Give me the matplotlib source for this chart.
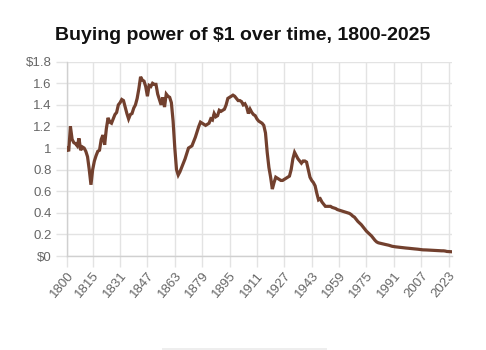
import matplotlib
matplotlib.use("Agg")
import matplotlib.pyplot as plt
from matplotlib.patches import Rectangle

plt.rcParams['font.family'] = ['Liberation Sans', 'DejaVu Sans']

years = list(range(1800, 2026))

# buying power of one 1800 dollar, one value per year
power = [
    1.00, 0.97, 1.20, 1.08, 1.05, 1.04, 1.02, 1.09, 0.98, 1.01,   # 1800s
    1.00, 0.97, 0.92, 0.80, 0.66, 0.80, 0.88, 0.93, 0.97, 0.98,   # 1810s
    1.08, 1.12, 1.03, 1.18, 1.28, 1.24, 1.23, 1.27, 1.31, 1.33,   # 1820s
    1.40, 1.42, 1.45, 1.44, 1.38, 1.32, 1.27, 1.31, 1.32, 1.37,   # 1830s
    1.40, 1.46, 1.55, 1.66, 1.63, 1.62, 1.57, 1.48, 1.58, 1.57,   # 1840s
    1.60, 1.59, 1.59, 1.50, 1.45, 1.40, 1.47, 1.38, 1.50, 1.48,   # 1850s
    1.47, 1.42, 1.25, 1.00, 0.80, 0.75, 0.78, 0.82, 0.86, 0.90,   # 1860s
    0.95, 1.00, 1.01, 1.02, 1.06, 1.10, 1.15, 1.20, 1.24, 1.23,   # 1870s
    1.22, 1.21, 1.22, 1.23, 1.27, 1.26, 1.32, 1.29, 1.30, 1.35,   # 1880s
    1.34, 1.35, 1.36, 1.40, 1.46, 1.47, 1.48, 1.49, 1.48, 1.46,   # 1890s
    1.44, 1.44, 1.43, 1.40, 1.41, 1.38, 1.32, 1.36, 1.33, 1.31,   # 1900s
    1.30, 1.27, 1.25, 1.24, 1.23, 1.21, 1.14, 0.96, 0.82, 0.73,   # 1910s
    0.62, 0.68, 0.73, 0.72, 0.71, 0.70, 0.70, 0.71, 0.72, 0.73,   # 1920s
    0.74, 0.80, 0.90, 0.96, 0.93, 0.90, 0.88, 0.86, 0.88, 0.88,   # 1930s
    0.87, 0.80, 0.73, 0.70, 0.68, 0.65, 0.58, 0.52, 0.53, 0.50,   # 1940s
    0.48, 0.46, 0.46, 0.46, 0.46, 0.45, 0.445, 0.44, 0.43, 0.425, # 1950s
    0.42, 0.415, 0.41, 0.405, 0.40, 0.395, 0.385, 0.37, 0.36, 0.34,   # 1960s
    0.32, 0.305, 0.29, 0.27, 0.25, 0.23, 0.215, 0.20, 0.185, 0.165,   # 1970s
    0.145, 0.13, 0.122, 0.118, 0.114, 0.11, 0.107, 0.104, 0.10, 0.095,  # 1980s
    0.09, 0.087, 0.085, 0.083, 0.081, 0.079, 0.077, 0.075, 0.074, 0.073,  # 1990s
    0.071, 0.069, 0.068, 0.066, 0.065, 0.063, 0.061, 0.059, 0.057, 0.057,  # 2000s
    0.056, 0.055, 0.054, 0.053, 0.052, 0.052, 0.051, 0.050, 0.049, 0.048,  # 2010s
    0.048, 0.046, 0.042, 0.041, 0.040, 0.039,                              # 2020s
]

x_ticks = [1800, 1815, 1831, 1847, 1863, 1879, 1895, 1911, 1927, 1943,
           1959, 1975, 1991, 2007, 2023]
y_ticks = [0, 0.2, 0.4, 0.6, 0.8, 1.0, 1.2, 1.4, 1.6, 1.8]
y_labels = ['$0', '0.2', '0.4', '0.6', '0.8', '1', '1.2', '1.4', '1.6', '$1.8']

grid_c = '#e3e3e3'
text_c = '#666666'

fig = plt.figure(figsize=(4.86, 3.5), dpi=100)
ax = fig.add_axes([67 / 486, 1 - 256 / 350, 385 / 486, 194.3 / 350])

ax.plot(years, power, color='#72402e', lw=2.3, solid_joinstyle='miter',
        zorder=3)

ax.set_xlim(1800, 2025)
ax.set_ylim(0, 1.8)
ax.set_xticks(x_ticks)
ax.set_xticklabels([str(t) for t in x_ticks], rotation=50, ha='right',
                   rotation_mode='anchor')
ax.set_yticks(y_ticks)
ax.set_yticklabels(y_labels)
ax.tick_params(axis='both', colors=grid_c, labelcolor=text_c, labelsize=9.5,
               length=8, width=1)
ax.tick_params(axis='y', pad=3)
ax.tick_params(axis='x', pad=2)
ax.grid(True, color=grid_c, lw=1)
ax.set_axisbelow(True)

for side in ['top', 'right']:
    ax.spines[side].set_visible(False)
for side in ['left', 'bottom']:
    ax.spines[side].set_color('#d0d0d0')
    ax.spines[side].set_linewidth(1)

fig.text(0.5, 1 - 36 / 350, 'Buying power of $1 over time, 1800-2025',
         ha='center', va='center', fontsize=14, fontweight='bold',
         color='#111111')

# thin grey strip at the bottom edge
fig.patches.append(Rectangle((162 / 486, 0), 165 / 486, 2.5 / 350,
                             transform=fig.transFigure, color='#eeeeee',
                             lw=0))

fig.savefig('out.png', dpi=100)
